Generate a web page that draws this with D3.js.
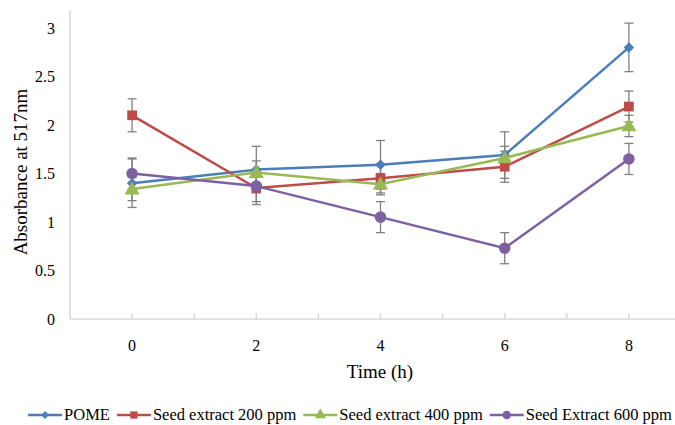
<!DOCTYPE html>
<html><head><meta charset="utf-8">
<script src="https://cdn.jsdelivr.net/npm/d3@7"></script>
<style>body{margin:0;background:#fff}svg{display:block;font-family:"Liberation Serif","Times New Roman",serif}</style>
</head><body><svg id="c" width="675" height="425"></svg>
<script>
const times = [0, 2, 4, 6, 8];
const seriesNames = ["POME", "Seed extract 200 ppm", "Seed extract 400 ppm", "Seed Extract 600 ppm"];
const pome = [1.40, 1.54, 1.59, 1.69, 2.80];
const pomeErr = [0.25, 0.24, 0.25, 0.24, 0.25];
const seed200 = [2.10, 1.35, 1.45, 1.57, 2.19];
const seed200Err = [0.17, 0.17, 0.15, 0.16, 0.16];
const seed400 = [1.34, 1.51, 1.39, 1.66, 1.99];
const seed400Err = [0.12, 0.12, 0.11, 0.12, 0.11];
const seed600 = [1.50, 1.37, 1.05, 0.73, 1.65];
const seed600Err = [0.16, 0.16, 0.16, 0.16, 0.16];
const yTicks = [0, 0.5, 1, 1.5, 2, 2.5, 3];

const colors = ["#4A7EBB", "#BE4B48", "#98B954", "#7D60A0"];
const shapes = [d3.symbolSquare, d3.symbolSquare, d3.symbolTriangle, d3.symbolCircle];
const rot = [45, 0, 0, 0];
const sizes = [55, 95, 100, 105];
const vals = [pome, seed200, seed400, seed600];
const errs = [pomeErr, seed200Err, seed400Err, seed600Err];

const svg = d3.select("#c");
const x = d3.scaleLinear().domain([-1, 9]).range([70, 691]);
const y = d3.scaleLinear().domain([0, 3]).range([319, 28]);

// axes
const axisCol = "#D9D9D9";
svg.append("line").attr("x1", 70).attr("x2", 70).attr("y1", 10).attr("y2", y(0))
  .attr("stroke", axisCol).attr("stroke-width", 1.5);
svg.append("line").attr("x1", 70).attr("x2", 675).attr("y1", y(0)).attr("y2", y(0))
  .attr("stroke", axisCol).attr("stroke-width", 1.5);
d3.range(0, 10).forEach(i => {
  svg.append("line").attr("x1", x(i)).attr("x2", x(i)).attr("y1", y(0) - 6).attr("y2", y(0))
    .attr("stroke", axisCol).attr("stroke-width", 1.5);
});
svg.selectAll(".yt").data(yTicks).enter().append("text")
  .attr("x", 55).attr("y", d => y(d)).attr("dy", "0.35em").attr("text-anchor", "end")
  .attr("font-size", 16).attr("fill", "#000").text(d => d);
svg.selectAll(".xt").data(times).enter().append("text")
  .attr("x", d => x(d)).attr("y", 351).attr("text-anchor", "middle")
  .attr("font-size", 16).attr("fill", "#000").text(d => d);

svg.append("text").attr("x", 380).attr("y", 378).attr("text-anchor", "middle")
  .attr("font-size", 19).text("Time (h)");
svg.append("text").attr("transform", "translate(27,172) rotate(-90)").attr("text-anchor", "middle")
  .attr("font-size", 19).text("Absorbance at 517nm");

// series
vals.forEach((v, s) => {
  const g = svg.append("g");
  times.forEach((t, i) => {
    const cx = x(t), top = y(v[i] + errs[s][i]), bot = y(v[i] - errs[s][i]);
    g.append("line").attr("x1", cx).attr("x2", cx).attr("y1", top).attr("y2", bot)
      .attr("stroke", "#808080").attr("stroke-width", 1.3);
    [top, bot].forEach(yy => g.append("line").attr("x1", cx - 4.5).attr("x2", cx + 4.5)
      .attr("y1", yy).attr("y2", yy).attr("stroke", "#808080").attr("stroke-width", 1.3));
  });
});
vals.forEach((v, s) => {
  const g = svg.append("g");
  g.append("path").datum(times.map((t, i) => [t, v[i]]))
    .attr("d", d3.line().x(d => x(d[0])).y(d => y(d[1])))
    .attr("fill", "none").attr("stroke", colors[s]).attr("stroke-width", 2.5);
  g.selectAll("path.m").data(times.map((t, i) => [t, v[i]])).enter().append("path")
    .attr("transform", d => `translate(${x(d[0])},${y(d[1]) + (s === 2 ? 1 : 0)}) rotate(${rot[s]})`)
    .attr("d", d3.symbol().type(shapes[s]).size(sizes[s]))
    .attr("fill", colors[s]);
});

// legend
const lg = svg.append("g");
let cur = 0;
seriesNames.forEach((n, s) => {
  const it = lg.append("g");
  it.append("line").attr("x1", 0).attr("x2", 34).attr("y1", 0).attr("y2", 0)
    .attr("stroke", colors[s]).attr("stroke-width", 2.5);
  it.append("path").attr("transform", `translate(17,0) rotate(${rot[s]})`)
    .attr("d", d3.symbol().type(shapes[s]).size(sizes[s] * 0.55)).attr("fill", colors[s]);
  const t = it.append("text").attr("x", 36).attr("y", 0).attr("dy", "0.33em")
    .attr("font-size", 16.5).text(n);
  const w = 36 + t.node().getComputedTextLength();
  it.attr("transform", `translate(${cur},415)`);
  cur += w + 7;
});
const total = cur - 7;
lg.attr("transform", `translate(${350 - total / 2},0)`);
</script></body></html>
